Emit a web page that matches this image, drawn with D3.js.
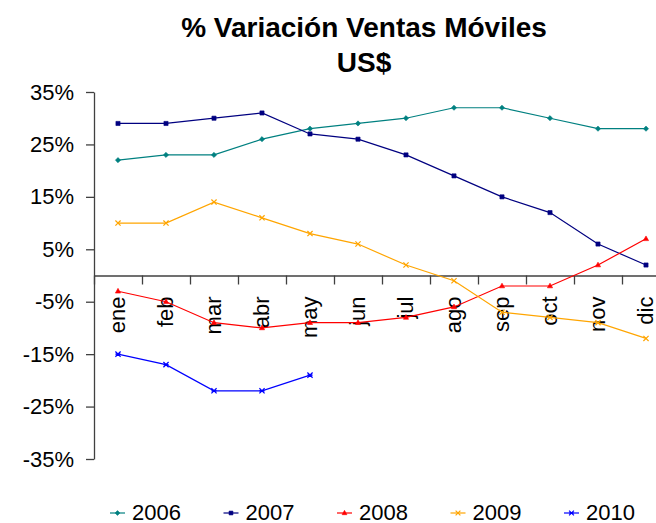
<!DOCTYPE html>
<html>
<head>
<meta charset="utf-8">
<script src="https://cdn.jsdelivr.net/npm/d3@7"></script>
<style>
  body { margin: 0; background: #fff; }
  svg { display: block; font-family: "Liberation Sans", Arial, sans-serif; }
</style>
</head>
<body>
<div id="chart"></div>
<script>
// data
const months = ["ene", "feb", "mar", "abr", "may", "jun", "jul", "ago", "sep", "oct", "nov", "dic"];
const v2006 = [22, 23, 23, 26, 28, 29, 30, 32, 32, 30, 28, 28];
const v2007 = [29, 29, 30, 31, 27, 26, 23, 19, 15, 12, 6, 2];
const v2008 = [-3, -5, -9, -10, -9, -9, -8, -6, -2, -2, 2, 7];
const v2009 = [10, 10, 14, 11, 8, 6, 2, -1, -7, -8, -9, -12];
const v2010 = [-15, -17, -22, -22, -19];
const yTicks = [-35, -25, -15, -5, 5, 15, 25, 35];

const series = [
  {name: "2006", values: v2006, color: "#008080", sym: "diamond"},
  {name: "2007", values: v2007, color: "#000080", sym: "square"},
  {name: "2008", values: v2008, color: "#FF0000", sym: "triangle"},
  {name: "2009", values: v2009, color: "#FFA500", sym: "x"},
  {name: "2010", values: v2010, color: "#0000FF", sym: "star"}
];

const W = 656, H = 523;
const plotLeft = 94, plotRight = 670, plotTop = 92, plotBottom = 459;

const svg = d3.select("#chart").append("svg")
  .attr("width", W).attr("height", H);

const x = d3.scaleBand().domain(months).range([plotLeft, plotRight]);
const xi = d3.scaleLinear().domain([0, months.length]).range([plotLeft, plotRight]);
const y = d3.scaleLinear().domain([-35, 35]).range([plotBottom, plotTop]);

// title
const title = svg.append("g").attr("font-weight", "bold").attr("text-anchor", "middle");
title.append("text").attr("x", 364).attr("y", 37).attr("font-size", 28)
  .text("% Variación Ventas Móviles");
title.append("text").attr("x", 364).attr("y", 72).attr("font-size", 28)
  .text("US$");

// y axis
const yAxis = svg.append("g").attr("transform", `translate(${plotLeft},0)`)
  .call(d3.axisLeft(y).tickValues(yTicks).tickFormat(d => d + "%").tickSize(8).tickPadding(12).tickSizeOuter(0));
yAxis.selectAll("text").attr("font-size", 22).attr("fill", "#000").attr("font-family", "Liberation Sans, Arial, sans-serif");
yAxis.selectAll("line, path").attr("stroke", "#404040").attr("stroke-width", 1.3);

// x axis at zero: boundary ticks
const x0 = y(0);
const xTickAxis = svg.append("g").attr("transform", `translate(0,${x0})`)
  .call(d3.axisBottom(xi).tickValues(d3.range(0, months.length + 1)).tickFormat("").tickSize(9).tickSizeOuter(0));
xTickAxis.selectAll("line, path").attr("stroke", "#404040").attr("stroke-width", 1.3);

// month labels, rotated
const xLab = svg.append("g").attr("transform", `translate(0,${x0})`)
  .call(d3.axisBottom(x).tickSize(0).tickPadding(0));
xLab.select(".domain").remove();
xLab.selectAll("text")
  .attr("font-size", 22).attr("fill", "#000").attr("font-family", "Liberation Sans, Arial, sans-serif")
  .attr("text-anchor", "end")
  .attr("transform", "translate(0,21) rotate(-90)")
  .attr("x", 0).attr("y", 0).attr("dy", "0.33em");

// symbols
function symbolPath(kind, size) {
  const s = size;
  if (kind === "diamond") return `M0,${-s}L${s},0L0,${s}L${-s},0Z`;
  if (kind === "square") return `M${-s * 0.8},${-s * 0.8}h${s * 1.6}v${s * 1.6}h${-s * 1.6}Z`;
  if (kind === "triangle") return `M0,${-s * 1.1}L${s},${s * 0.7}L${-s},${s * 0.7}Z`;
  if (kind === "x") return `M${-s},${-s}L${s},${s}M${-s},${s}L${s},${-s}`;
  return `M${-s},${-s}L${s},${s}M${-s},${s}L${s},${-s}M${-s},0L${s},0`;
}
function drawSymbol(g, kind, color, size) {
  const filled = kind === "diamond" || kind === "square" || kind === "triangle";
  g.append("path").attr("d", symbolPath(kind, size))
    .attr("fill", filled ? color : "none")
    .attr("stroke", color).attr("stroke-width", filled ? 0.6 : 1.2);
}

const line = d3.line().x((d, i) => x(months[i]) + x.bandwidth() / 2).y(d => y(d));

series.forEach(s => {
  const g = svg.append("g");
  g.append("path").datum(s.values).attr("d", line)
    .attr("fill", "none").attr("stroke", s.color).attr("stroke-width", 1.2);
  s.values.forEach((v, i) => {
    const m = g.append("g").attr("transform", `translate(${x(months[i]) + x.bandwidth() / 2},${y(v)})`);
    drawSymbol(m, s.sym, s.color, 2.6);
  });
});

// legend
const legend = svg.append("g");
series.forEach((s, i) => {
  const lx = 110 + i * 113.5;
  const ly = 513;
  const g = legend.append("g");
  g.append("line").attr("x1", lx).attr("x2", lx + 15).attr("y1", ly).attr("y2", ly)
    .attr("stroke", s.color).attr("stroke-width", 1.2);
  const m = g.append("g").attr("transform", `translate(${lx + 7.5},${ly})`);
  drawSymbol(m, s.sym, s.color, 2.4);
  g.append("text").attr("x", lx + 22).attr("y", 520).attr("font-size", 22).text(s.name);
});
</script>
</body>
</html>
